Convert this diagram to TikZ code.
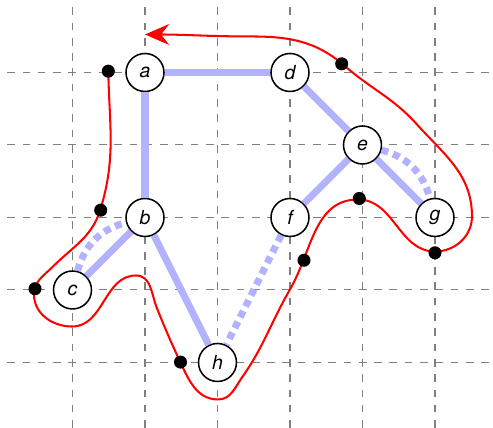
\documentclass[tikz,border=0pt]{standalone}
\usepackage{fontspec}
\setmainfont{TeX Gyre Heros}
\usetikzlibrary{arrows.meta}
\begin{document}
\begin{tikzpicture}[
  vertex/.style={circle, draw=black, line width=0.6pt, fill=white, minimum size=0.524cm, inner sep=0pt, font=\fontsize{7.6}{9}\selectfont\itshape},
  edge/.style={draw=blue!30, line width=2.75pt},
  dotedge/.style={edge, dotted},
  gridline/.style={gray, line width=0.4pt, dashed},
  route/.style={red, line width=0.8pt, -{Stealth[length=9.5pt,width=8.2pt,inset=3.2pt]}},
  dot/.style={circle, fill=black, inner sep=0pt, minimum size=0.18cm}
]
\useasboundingbox (0,0.1) rectangle (6.8,6.0);
\draw[gridline] (0.1,0.1) grid (6.8,5.9);

\node[vertex] (a) at (2,5) {a};
\node[vertex] (d) at (4,5) {d};
\node[vertex] (e) at (5,4) {e};
\node[vertex] (b) at (2,3) {b};
\node[vertex] (f) at (4,3) {f};
\node[vertex] (g) at (6,3) {g};
\node[vertex] (c) at (1,2) {c};
\node[vertex] (h) at (3,1) {h};

\draw[edge] (a) -- (d);
\draw[edge] (a) -- (b);
\draw[edge] (d) -- (e);
\draw[edge] (e) -- (f);
\draw[edge] (e) -- (g);
\draw[edge] (b) -- (c);
\draw[edge] (b) -- (h);
\draw[dotedge] (c) to[bend left] (b);
\draw[dotedge] (e) to[bend left] (g);
\draw[dotedge] (f) -- (h);

\coordinate (r0) at (1.494,5.014);
\coordinate (r1) at (1.385,3.110);
\coordinate (r2) at (0.731,2.324);
\coordinate (r3) at (0.469,1.938);
\coordinate (r4) at (0.993,1.496);
\coordinate (r5) at (1.876,2.200);
\coordinate (r6) at (2.166,1.745);
\coordinate (r7) at (2.483,1.014);
\coordinate (r8) at (3.007,0.490);
\coordinate (r9) at (3.338,0.793);
\coordinate (r10) at (4.000,2.007);
\coordinate (r11) at (4.938,3.248);
\coordinate (r12) at (6.000,2.531);
\coordinate (r13) at (6.510,3.014);
\coordinate (r14) at (5.752,4.283);
\coordinate (r15) at (4.759,5.087);
\coordinate (r16) at (3.448,5.497);
\coordinate (r17) at (2.000,5.524);

\draw[route] (r0) to[out=-89,in=73] (r1)
  to[out=-107,in=45] (r2)
  to[out=-135,in=90] (r3)
  to[out=-90,in=180] (r4)
  to[out=0,in=180] (r5)
  to[out=0,in=112] (r6)
  to[out=-68,in=115] (r7)
  to[out=-65,in=180] (r8)
  to[out=0,in=235] (r9)
  to[out=55,in=240] (r10)
  to[out=60,in=180] (r11)
  to[out=0,in=180] (r12)
  to[out=0,in=-90] (r13)
  to[out=90,in=-48] (r14)
  to[out=132,in=-41] (r15)
  to[out=139,in=0] (r16)
  to[out=180,in=0] (r17);

\node[dot] (p1) at (1.494,5.018) {};
\node[dot] (p2) at (1.389,3.101) {};
\node[dot] (p3) at (0.483,2.017) {};
\node[dot] (p4) at (2.490,1.005) {};
\node[dot] (p5) at (4.193,2.410) {};
\node[dot] (p6) at (4.956,3.262) {};
\node[dot] (p7) at (6.0,2.513) {};
\node[dot] (p8) at (4.713,5.120) {};
\end{tikzpicture}
\end{document}
